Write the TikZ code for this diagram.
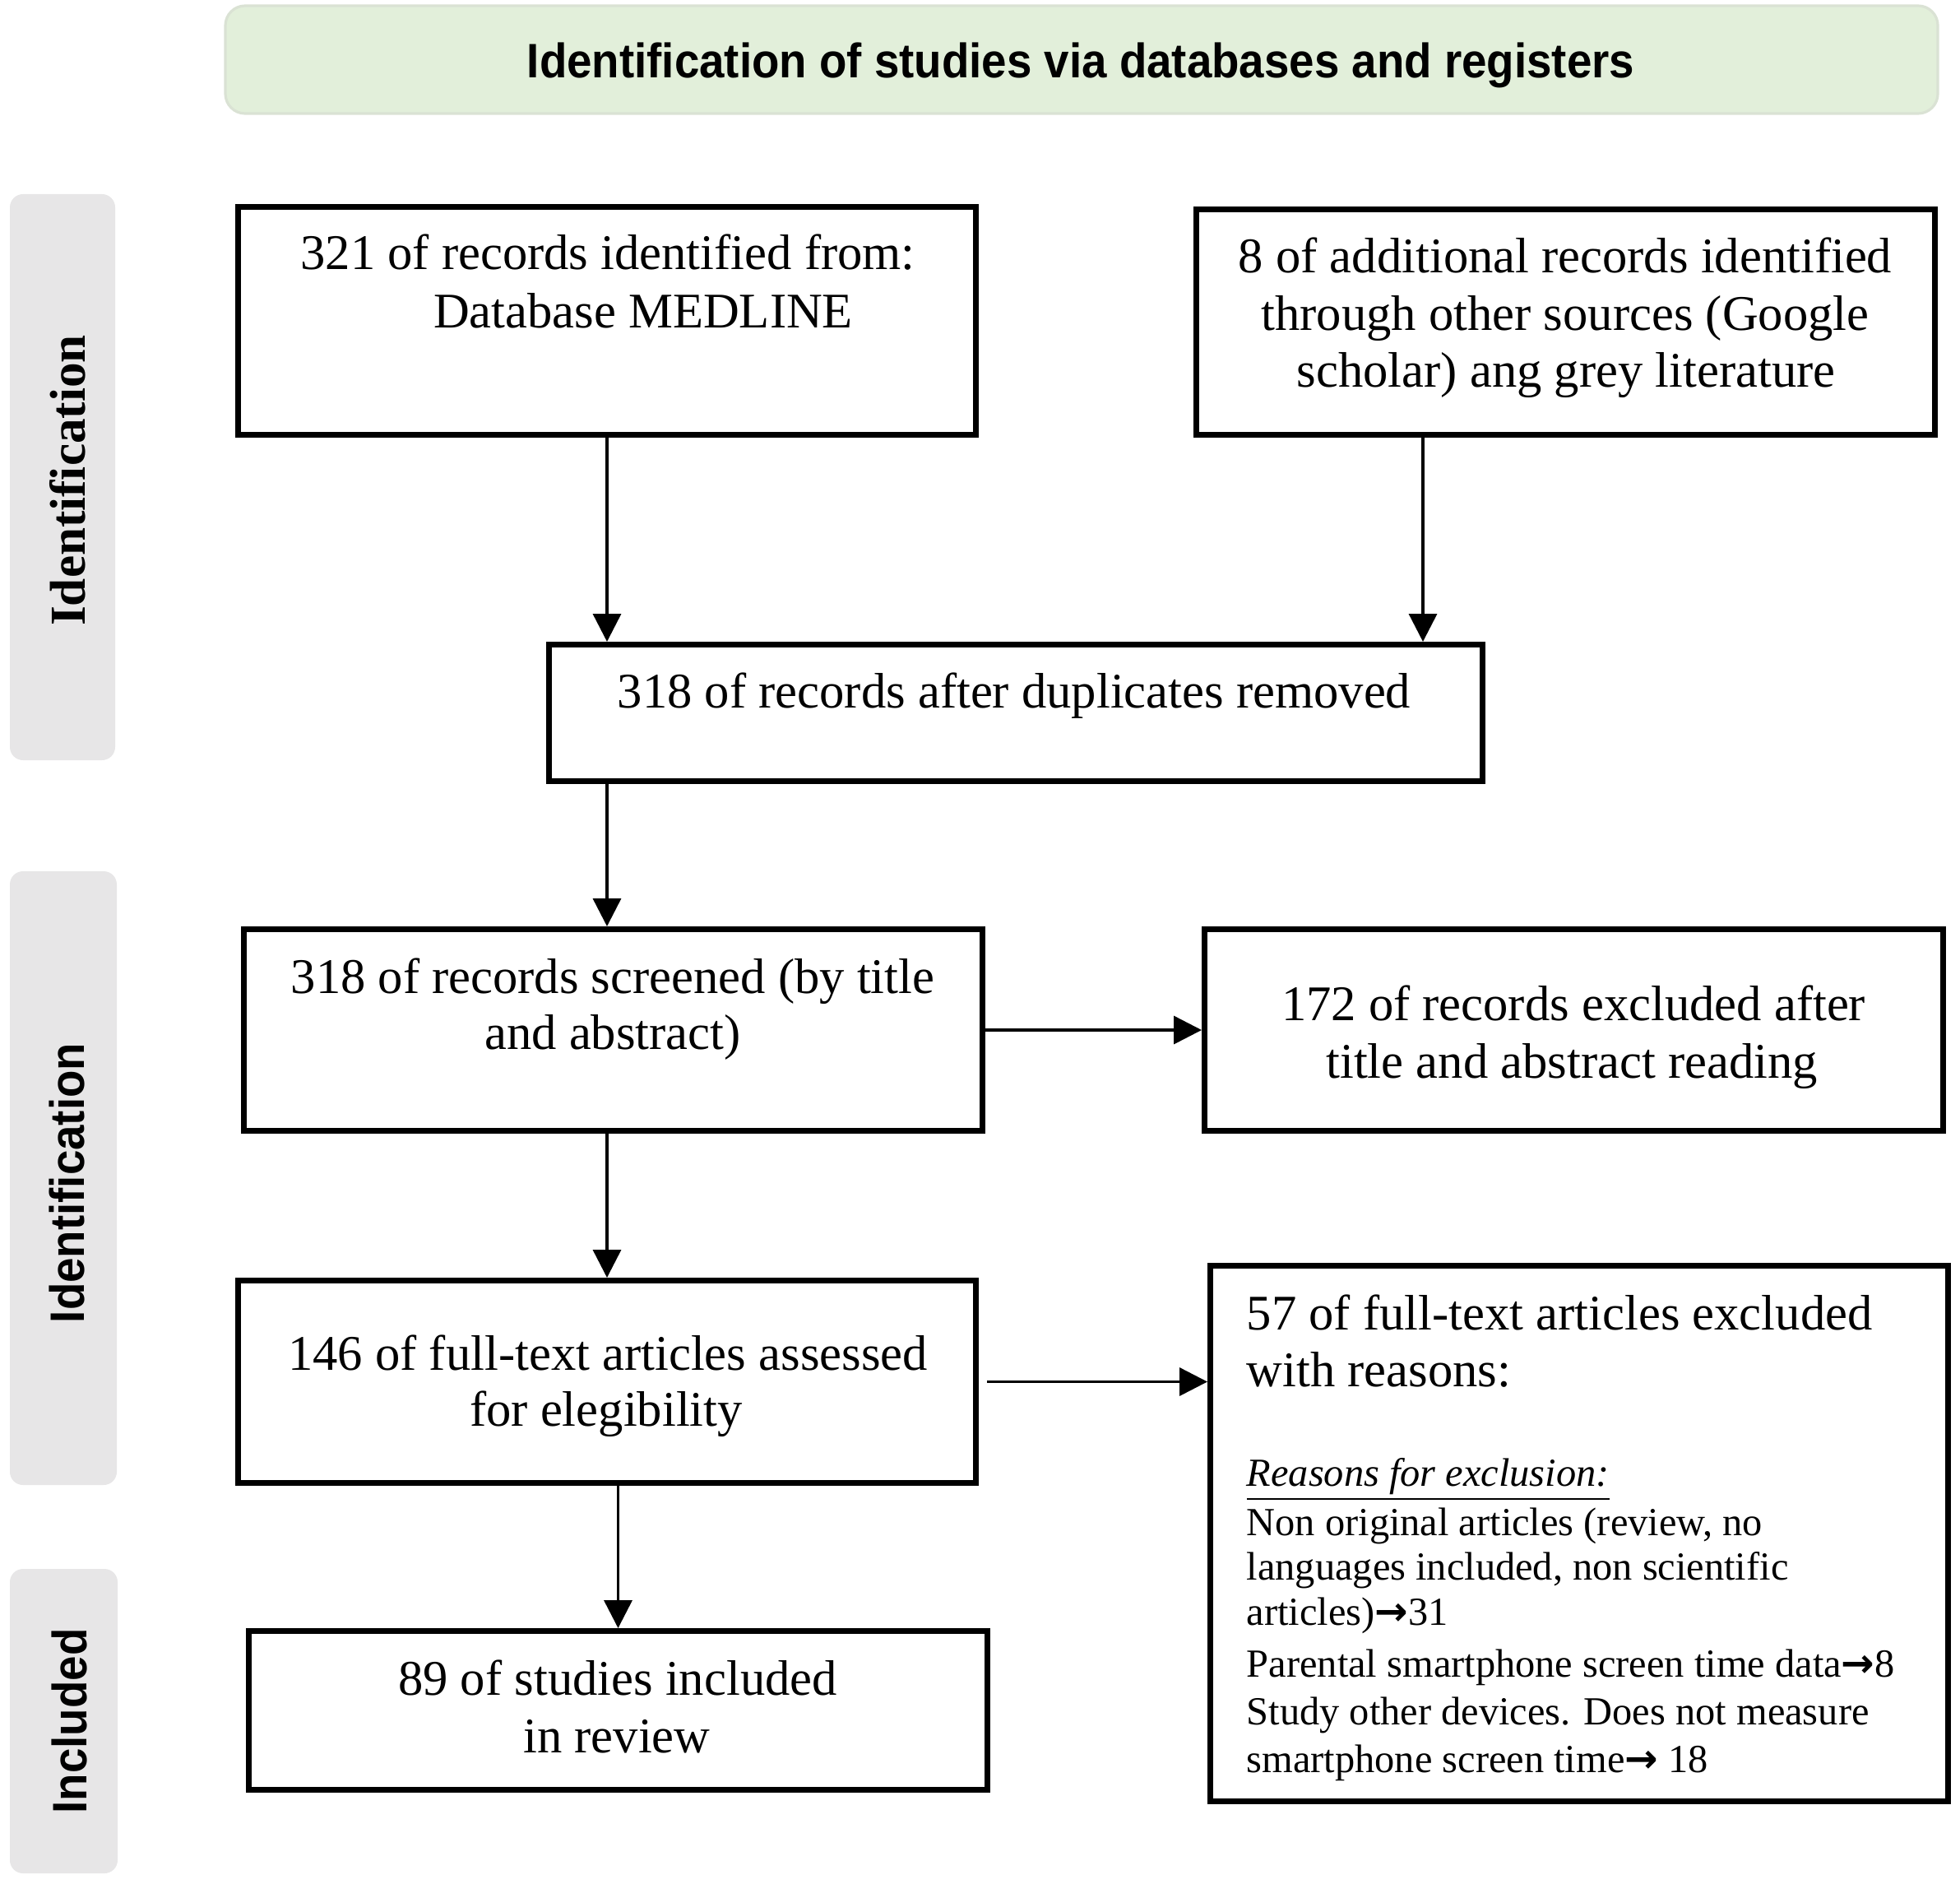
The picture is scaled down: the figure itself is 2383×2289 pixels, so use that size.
\documentclass[tikz,border=0pt]{standalone}
\usepackage{fontspec}
\setmainfont{Liberation Serif}
\newfontfamily\hdrfont[FakeStretch=0.93]{Liberation Sans}
\newfontfamily\arrfont{DejaVu Sans}
\usetikzlibrary{arrows.meta}
\newcommand\mtxt{\fontsize{15.15}{17.5}\selectfont}
\newcommand\stxt{\fontsize{12.1}{14.4}\selectfont}
\newcommand\rarr{{\arrfont\bfseries →}}
\definecolor{hdrgreen}{RGB}{226,239,218}
\definecolor{hdredge}{RGB}{218,226,212}
\definecolor{sidegray}{RGB}{231,230,231}
\begin{document}
\begin{tikzpicture}[x=0.25pt,y=-0.25pt,
  box/.style={draw=black, line width=1.75pt, fill=white, inner sep=0pt},
  hdrbox/.style={fill=hdrgreen, draw=hdredge, line width=0.8pt, rounded corners=6pt, inner sep=0pt},
  sidebox/.style={fill=sidegray, rounded corners=4pt, inner sep=0pt},
  tl/.style={anchor=base, inner sep=0pt, font=\mtxt},
  tlw/.style={anchor=base west, inner sep=0pt, font=\mtxt},
  sl/.style={anchor=base west, inner sep=0pt, font=\stxt},
  sidelbl/.style={rotate=90, inner sep=0pt},
  arr/.style={line width=0.875pt, -{Triangle[length=8.5pt,width=8.5pt]}}]
\useasboundingbox (0,0) rectangle (2383,2289);

% header
\node[hdrbox, minimum width=520.5pt, minimum height=32.75pt] (hdr) at (1315,72.5) {};
\node[anchor=base, inner sep=0pt, font={\hdrfont\bfseries\fontsize{14.7}{17}\selectfont}] (hdrT) at (1314,95) {Identification of studies via databases and registers};

% side labels
\node[sidebox, minimum width=32pt, minimum height=172pt] (L1) at (76,580) {};
\node[sidelbl, font={\bfseries\fontsize{15.3}{18}\selectfont}] (L1T) at (82,584) {Identification};
\node[sidebox, minimum width=32.5pt, minimum height=186.5pt] (L2) at (77,1432) {};
\node[sidelbl, font={\hdrfont\bfseries\fontsize{14.7}{17}\selectfont}] (L2T) at (81,1438) {Identification};
\node[sidebox, minimum width=32.75pt, minimum height=92.5pt] (L3) at (77.5,2092) {};
\node[sidelbl, font={\hdrfont\bfseries\fontsize{14.7}{17}\selectfont}] (L3T) at (84,2092) {Included};

% boxes
\node[box, minimum width=224.25pt, minimum height=69.25pt] (A) at (738,390) {};
\node[box, minimum width=224.5pt, minimum height=68.5pt] (B) at (1903.5,391.5) {};
\node[box, minimum width=283.75pt, minimum height=41.5pt] (C) at (1235,866.5) {};
\node[box, minimum width=224.5pt, minimum height=61.25pt] (D) at (745.5,1252) {};
\node[box, minimum width=224.5pt, minimum height=61.25pt] (E) at (1913.5,1252) {};
\node[box, minimum width=224.25pt, minimum height=61.5pt] (F) at (738,1679.5) {};
\node[box, minimum width=224.25pt, minimum height=162.75pt] (G) at (1920,1864) {};
\node[box, minimum width=224.5pt, minimum height=48.25pt] (H) at (751.5,2079) {};

% texts
\node[tl] (A1) at (739,328) {321 of records identified from:};
\node[tl] (A2) at (782,398) {Database MEDLINE};

\node[tl] (B1) at (1903,332) {8 of additional records identified};
\node[tl] (B2) at (1903,401) {through other sources (Google};
\node[tl] (B3) at (1904,470) {scholar) ang grey literature};

\node[tl] (C1) at (1233,860) {318 of records after duplicates removed};

\node[tl] (D1) at (745,1207) {318 of records screened (by title};
\node[tl] (D2) at (745,1275) {and abstract)};

\node[tl] (E1) at (1913,1240) {172 of records excluded after};
\node[tl] (E2) at (1911,1310) {title and abstract reading};

\node[tl] (F1) at (739,1665) {146 of full-text articles assessed};
\node[tl] (F2) at (737,1733) {for elegibility};

\node[tl] (H1) at (751,2060) {89 of studies included};
\node[tl] (H2) at (750,2130) {in review};

\node[tlw] (G1) at (1515,1616) {57 of full-text articles excluded};
\node[tlw] (G2) at (1515,1685) {with reasons:};
\node[sl] (G3) at (1515,1806) {\underline{\textit{Reasons for exclusion:}}};
\node[sl] (G4) at (1515,1866) {Non original articles (review, no};
\node[sl] (G5) at (1515,1920) {languages included, non scientific};
\node[sl] (G6) at (1515,1975) {articles)\rarr 31};
\node[sl] (G7) at (1515,2038) {Parental smartphone screen time data\rarr 8};
\node[sl] (G8) at (1515,2096) {Study other devices. Does not measure};
\node[sl] (G9) at (1515,2154) {smartphone screen time\rarr\ 18};

% connectors
\coordinate (bx) at (1730,0);
\coordinate (cx) at (738,0);
\draw[arr] (A.south) -- (A.south |- C.north);
\draw[arr] (B.south -| bx) -- (bx |- C.north);
\draw[arr] (C.south -| cx) -- (cx |- D.north);
\draw[arr] (D.south -| cx) -- (cx |- F.north);
\draw[arr] (H.north |- F.south) -- (H.north);
\draw[arr] (D.east) -- (E.west);
\draw[arr, shorten <=2.5pt] (F.east) -- (F.east -| G.west);
\end{tikzpicture}
\end{document}
